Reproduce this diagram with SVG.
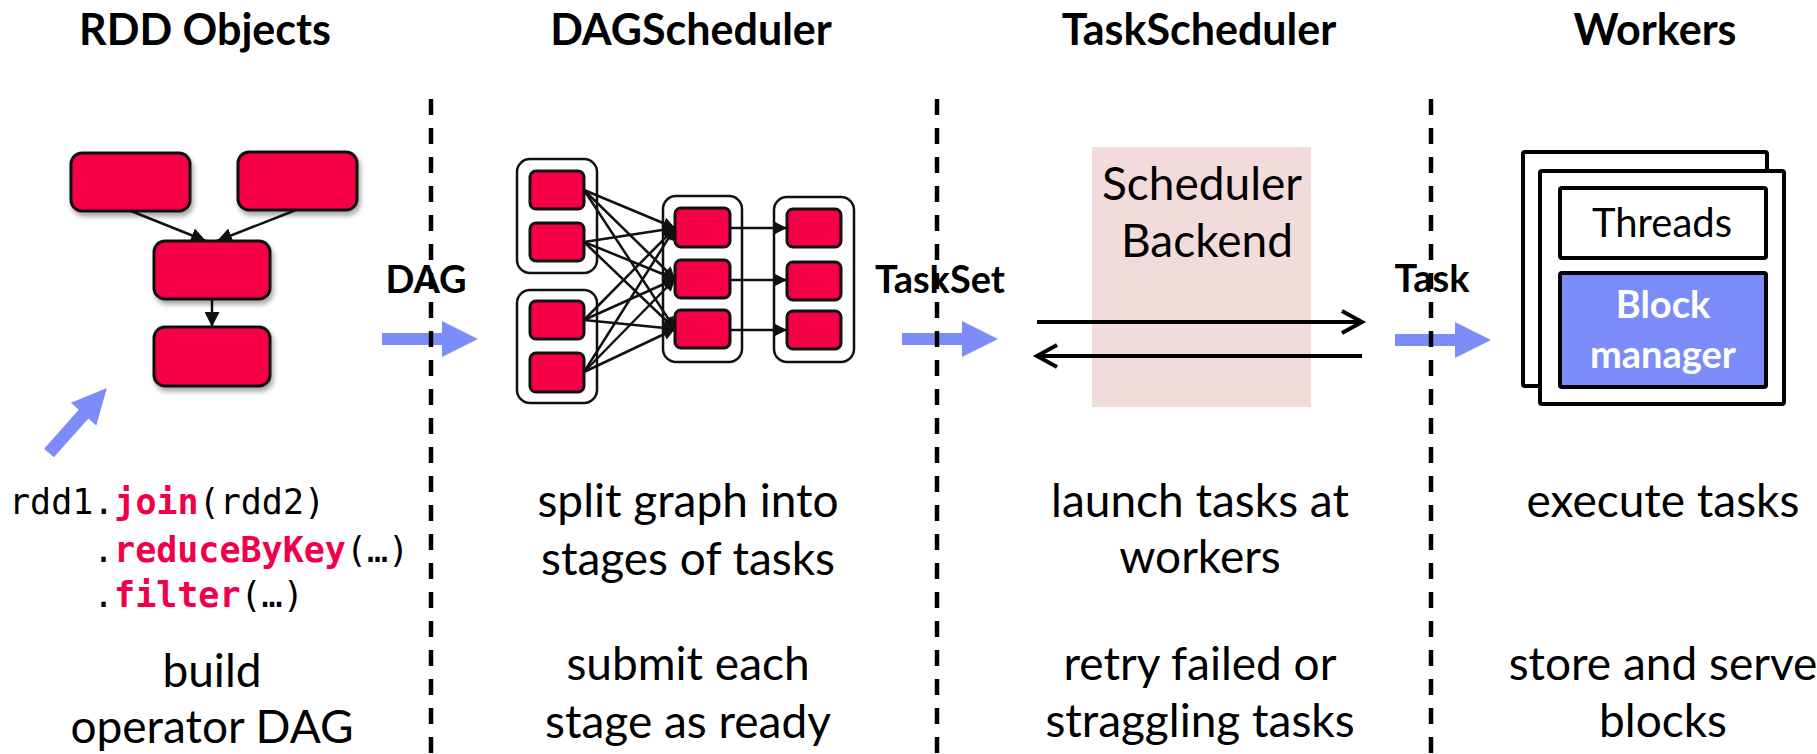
<svg xmlns="http://www.w3.org/2000/svg" width="1817" height="754" viewBox="0 0 1817 754">
  <defs>
    <style>
      .title { font-family: Lato, "Liberation Sans", sans-serif; font-weight: 700; font-size: 43px; fill: #000; text-anchor: middle; }
      .label { font-family: Lato, "Liberation Sans", sans-serif; font-weight: 700; font-size: 38px; fill: #000; text-anchor: middle; }
      .body { font-family: Lato, "Liberation Sans", sans-serif; font-size: 46px; fill: #000; text-anchor: middle; }
      .code { font-family: "DejaVu Sans Mono", "Liberation Mono", monospace; font-size: 35px; fill: #000; }
      .kw { fill: #F0004B; font-weight: 700; }
      .rdd { fill: #F50046; stroke: #111; stroke-width: 3; }
      .stage { fill: #fff; stroke: #111; stroke-width: 2.5; }
      .task { fill: #F50046; stroke: #111; stroke-width: 3; }
      .edge { stroke: #111; stroke-width: 2.5; fill: none; }
      .divider { stroke: #000; stroke-width: 4.5; stroke-dasharray: 16 13; }
      .flow { fill: #7C8CF8; }
      .frame { fill: #fff; stroke: #000; stroke-width: 4; }
    </style>
    <filter id="shadow" x="-20%" y="-20%" width="150%" height="160%">
      <feDropShadow dx="2" dy="4" stdDeviation="2.5" flood-color="#000" flood-opacity="0.35"/>
    </filter>
    <marker id="tri" viewBox="0 0 10 10" refX="10" refY="5" markerWidth="15" markerHeight="15" markerUnits="userSpaceOnUse" orient="auto">
      <path d="M0,0 L10,5 L0,10 z" fill="#111"/>
    </marker>
    <marker id="triSmall" viewBox="0 0 10 10" refX="10" refY="5" markerWidth="13" markerHeight="12" markerUnits="userSpaceOnUse" orient="auto">
      <path d="M0,0 L10,5 L0,10 z" fill="#111"/>
    </marker>
    <marker id="chev" viewBox="0 0 24 26" refX="22" refY="13" markerWidth="24" markerHeight="26" markerUnits="userSpaceOnUse" orient="auto" overflow="visible">
      <path d="M2,2 L22,13 L2,24" fill="none" stroke="#000" stroke-width="4"/>
    </marker>
  </defs>

  <rect width="1817" height="754" fill="#fff"/>

  <!-- column headings -->
  <text class="title" x="205" y="45">RDD Objects</text>
  <text class="title" x="691" y="45">DAGScheduler</text>
  <text class="title" x="1199" y="45">TaskScheduler</text>
  <text class="title" x="1655" y="45">Workers</text>

  <!-- blue flow arrows between stages -->
  <g id="flow-arrows">
    <polygon class="flow" points="0,-6.5 52,-6.5 52,-17 87,0 52,17 52,6.5 0,6.5" transform="translate(49,453) rotate(-48.3)"/>
    <polygon class="flow" points="382,333 442,333 442,321 478,339 442,357 442,345 382,345"/>
    <polygon class="flow" points="902,333 962,333 962,321 998,339 962,357 962,345 902,345"/>
    <polygon class="flow" points="1395,334 1455,334 1455,322 1491,340 1455,358 1455,346 1395,346"/>
  </g>

  <!-- stage dividers -->
  <g id="dividers">
    <line class="divider" x1="431" y1="99" x2="431" y2="754"/>
    <line class="divider" x1="937" y1="99" x2="937" y2="754"/>
    <line class="divider" x1="1431" y1="99" x2="1431" y2="754"/>
  </g>

  <!-- flow labels -->
  <text class="label" x="426" y="293">DAG</text>
  <text class="label" x="940" y="293">TaskSet</text>
  <text class="label" x="1432" y="292">Task</text>

  <!-- RDD objects -->
  <g id="rdd-a"><rect class="rdd" x="71" y="153" width="119" height="58" rx="11" filter="url(#shadow)"/></g>
  <g id="rdd-b"><rect class="rdd" x="238" y="152" width="119" height="58" rx="11" filter="url(#shadow)"/></g>
  <g id="rdd-join"><rect class="rdd" x="154" y="241" width="116" height="58" rx="11" filter="url(#shadow)"/></g>
  <g id="rdd-result"><rect class="rdd" x="154" y="327" width="116" height="59" rx="11" filter="url(#shadow)"/></g>

  <!-- DAG stages -->
  <g id="stage-1">
    <rect class="stage" x="517" y="159" width="80" height="114" rx="13"/>
    <rect class="task" x="530" y="171" width="54" height="38" rx="6"/>
    <rect class="task" x="530" y="223" width="54" height="38" rx="6"/>
  </g>
  <g id="stage-2">
    <rect class="stage" x="517" y="290" width="80" height="113" rx="13"/>
    <rect class="task" x="530" y="301" width="54" height="38" rx="6"/>
    <rect class="task" x="530" y="353" width="54" height="39" rx="6"/>
  </g>
  <g id="stage-3">
    <rect class="stage" x="663" y="196" width="79" height="166" rx="13"/>
    <rect class="task" x="675" y="208" width="55" height="39" rx="6"/>
    <rect class="task" x="675" y="260" width="55" height="38" rx="6"/>
    <rect class="task" x="675" y="310" width="55" height="38" rx="6"/>
  </g>
  <g id="stage-4">
    <rect class="stage" x="774" y="197" width="80" height="165" rx="13"/>
    <rect class="task" x="787" y="209" width="54" height="38" rx="6"/>
    <rect class="task" x="787" y="262" width="54" height="38" rx="6"/>
    <rect class="task" x="787" y="311" width="54" height="38" rx="6"/>
  </g>

  <!-- scheduler backend -->
  <g id="scheduler-backend">
    <rect x="1092" y="147" width="219" height="260" fill="#F2DCDB"/>
    <text class="body" x="1202" y="200">Scheduler</text>
    <text class="body" x="1207" y="257">Backend</text>
  </g>

  <!-- worker -->
  <g id="worker">
    <rect class="frame" x="1523" y="152" width="244" height="234" rx="2"/>
    <rect class="frame" x="1540" y="171" width="244" height="233" rx="2"/>
    <rect class="frame" x="1560" y="188" width="206" height="70" rx="2"/>
    <text class="body" x="1662" y="237" style="font-size:40px">Threads</text>
    <rect x="1560" y="273" width="206" height="114" rx="2" fill="#7C8CF8" stroke="#000" stroke-width="4"/>
    <text class="label" x="1663" y="318" style="fill:#fff">Block</text>
    <text class="label" x="1663" y="368" style="fill:#fff">manager</text>
  </g>

  <!-- connectors -->
  <g id="connectors">
    <line class="edge" x1="131" y1="211" x2="206" y2="241" marker-end="url(#tri)"/>
    <line class="edge" x1="296" y1="210" x2="217" y2="241" marker-end="url(#tri)"/>
    <line class="edge" x1="212" y1="299" x2="212" y2="327" marker-end="url(#tri)"/>

    <line class="edge" x1="584" y1="190" x2="675" y2="228" marker-end="url(#triSmall)"/>
    <line class="edge" x1="584" y1="190" x2="675" y2="279" marker-end="url(#triSmall)"/>
    <line class="edge" x1="584" y1="190" x2="675" y2="329" marker-end="url(#triSmall)"/>
    <line class="edge" x1="584" y1="242" x2="675" y2="228" marker-end="url(#triSmall)"/>
    <line class="edge" x1="584" y1="242" x2="675" y2="279" marker-end="url(#triSmall)"/>
    <line class="edge" x1="584" y1="242" x2="675" y2="329" marker-end="url(#triSmall)"/>
    <line class="edge" x1="584" y1="320" x2="675" y2="228" marker-end="url(#triSmall)"/>
    <line class="edge" x1="584" y1="320" x2="675" y2="279" marker-end="url(#triSmall)"/>
    <line class="edge" x1="584" y1="320" x2="675" y2="329" marker-end="url(#triSmall)"/>
    <line class="edge" x1="584" y1="372" x2="675" y2="228" marker-end="url(#triSmall)"/>
    <line class="edge" x1="584" y1="372" x2="675" y2="279" marker-end="url(#triSmall)"/>
    <line class="edge" x1="584" y1="372" x2="675" y2="329" marker-end="url(#triSmall)"/>

    <line class="edge" x1="730" y1="228" x2="787" y2="228" marker-end="url(#triSmall)"/>
    <line class="edge" x1="730" y1="280" x2="787" y2="280" marker-end="url(#triSmall)"/>
    <line class="edge" x1="730" y1="330" x2="787" y2="330" marker-end="url(#triSmall)"/>

    <line x1="1037" y1="322" x2="1362" y2="322" stroke="#000" stroke-width="4" marker-end="url(#chev)"/>
    <line x1="1362" y1="356" x2="1037" y2="356" stroke="#000" stroke-width="4" marker-end="url(#chev)"/>
  </g>

  <!-- program code -->
  <text class="code" x="9" y="514">rdd1.<tspan class="kw">join</tspan>(rdd2)</text>
  <text class="code" x="93" y="562">.<tspan class="kw">reduceByKey</tspan>(…)</text>
  <text class="code" x="93" y="607">.<tspan class="kw">filter</tspan>(…)</text>

  <!-- descriptions -->
  <text class="body" x="212" y="687">build</text>
  <text class="body" x="212" y="743">operator DAG</text>

  <text class="body" x="688" y="517">split graph into</text>
  <text class="body" x="688" y="575">stages of tasks</text>
  <text class="body" x="688" y="680">submit each</text>
  <text class="body" x="688" y="738">stage as ready</text>

  <text class="body" x="1200" y="517">launch tasks at</text>
  <text class="body" x="1200" y="573">workers</text>
  <text class="body" x="1200" y="680">retry failed or</text>
  <text class="body" x="1200" y="737">straggling tasks</text>

  <text class="body" x="1663" y="517">execute tasks</text>
  <text class="body" x="1663" y="680">store and serve</text>
  <text class="body" x="1663" y="737">blocks</text>
</svg>
